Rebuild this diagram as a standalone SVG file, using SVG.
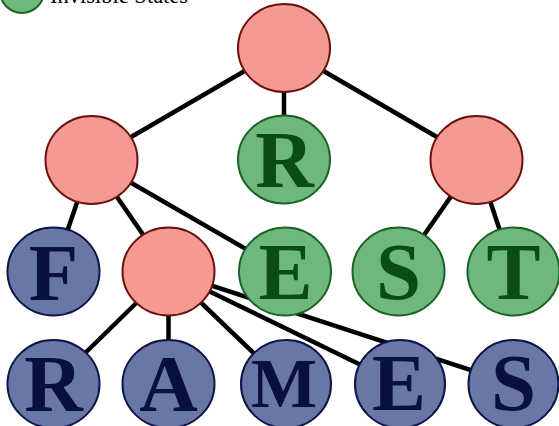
<svg xmlns="http://www.w3.org/2000/svg" width="559" height="426" viewBox="0 0 559 426">
<style>
.edge{stroke:#000;stroke-width:4.5;fill:none}
.pink{fill:#F49A90;stroke:#6B1010;stroke-width:2}
.green{fill:#6EB87C;stroke:#1B6128;stroke-width:2}
.blue{fill:#6A76A6;stroke:#0B1547;stroke-width:2}
.lt{font-weight:700;font-size:81px;text-anchor:middle}
.gt{fill:#0B4C14}
.bt{fill:#07113F}
.leg{font-size:22.5px;fill:#000}
</style>
<rect width="559" height="426" fill="#fff"/>
<g id="legend" font-family="Liberation Serif, Times New Roman, serif">
<circle cx="22" cy="-9" r="22" class="green"/>
<text x="50" y="3" class="leg">Invisible States</text>
</g>
<g id="connectors">
<line class="edge" x1="284" y1="48" x2="91.5" y2="160"/>
<line class="edge" x1="284" y1="48" x2="284" y2="159.5"/>
<line class="edge" x1="284" y1="48" x2="476.5" y2="160"/>
<line class="edge" x1="91.5" y1="160" x2="53.5" y2="271.5"/>
<line class="edge" x1="91.5" y1="160" x2="168.5" y2="271.5"/>
<line class="edge" x1="91.5" y1="160" x2="285" y2="271.5"/>
<line class="edge" x1="476.5" y1="160" x2="398.5" y2="271.5"/>
<line class="edge" x1="476.5" y1="160" x2="513.5" y2="271.5"/>
<line class="edge" x1="168.5" y1="271.5" x2="53.5" y2="384"/>
<line class="edge" x1="168.5" y1="271.5" x2="168.5" y2="384"/>
<line class="edge" x1="168.5" y1="271.5" x2="286" y2="384"/>
<line class="edge" x1="168.5" y1="271.5" x2="400" y2="384"/>
<line class="edge" x1="168.5" y1="271.5" x2="513.5" y2="384"/>
</g>
<g font-family="Liberation Serif, Times New Roman, serif">
<g id="root"><ellipse cx="284" cy="48" rx="46" ry="44" class="pink"/></g>
<g id="n-left"><ellipse cx="91.5" cy="160" rx="46" ry="44" class="pink"/></g>
<g id="n-R-green"><ellipse cx="284" cy="159.5" rx="46" ry="44" class="green"/><text x="284.5" y="187" class="lt gt">R</text></g>
<g id="n-right"><ellipse cx="476.5" cy="160" rx="46" ry="44" class="pink"/></g>
<g id="n-F"><ellipse cx="53.5" cy="271.5" rx="46" ry="44" class="blue"/><text x="53.5" y="299.5" class="lt bt">F</text></g>
<g id="n-mid"><ellipse cx="168.5" cy="271.5" rx="46" ry="44" class="pink"/></g>
<g id="n-E-green"><ellipse cx="285" cy="271.5" rx="46" ry="44" class="green"/><text x="285.5" y="298.5" class="lt gt">E</text></g>
<g id="n-S-green"><ellipse cx="398.5" cy="271.5" rx="46" ry="44" class="green"/><text x="398.5" y="299" class="lt gt">S</text></g>
<g id="n-T-green"><ellipse cx="513.5" cy="271.5" rx="46" ry="44" class="green"/><text x="513.5" y="299" class="lt gt">T</text></g>
<g id="n-R"><ellipse cx="53.5" cy="384" rx="46" ry="44" class="blue"/><text x="53.5" y="411" class="lt bt">R</text></g>
<g id="n-A"><ellipse cx="168.5" cy="384" rx="46" ry="44" class="blue"/><text x="168.5" y="411" class="lt bt">A</text></g>
<g id="n-M"><ellipse cx="286" cy="384" rx="45" ry="44" class="blue"/><text x="284" y="407" class="lt bt" style="font-size:70px">M</text></g>
<g id="n-E"><ellipse cx="400" cy="384" rx="45" ry="44" class="blue"/><text x="399" y="410" class="lt bt">E</text></g>
<g id="n-S"><ellipse cx="513.5" cy="384" rx="45" ry="44" class="blue"/><text x="513.5" y="410" class="lt bt">S</text></g>
</g>
</svg>
